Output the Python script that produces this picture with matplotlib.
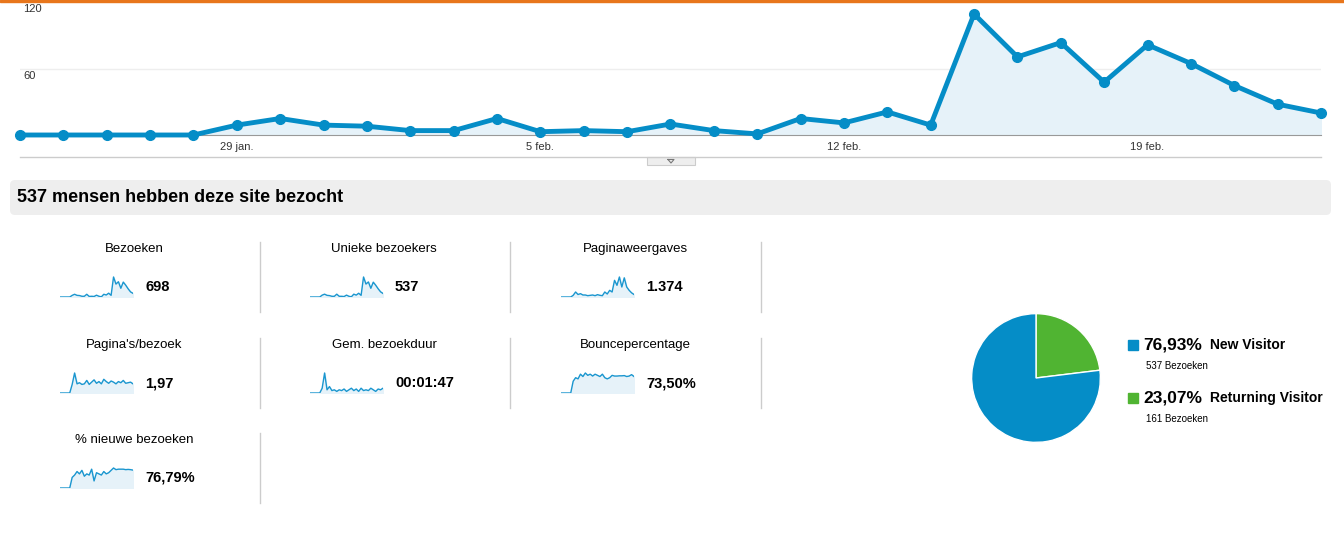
import matplotlib.pyplot as plt
from matplotlib.patches import FancyBboxPatch, Rectangle
import numpy as np

plt.rcParams['font.family'] = 'Liberation Sans'

W, H = 1344, 545
BLUE = '#058dc7'
GREEN = '#50b432'

# daily visits, 24 jan .. 23 feb
visits = [0, 0, 0, 0, 0, 9, 15, 9, 8, 4, 4, 15, 3, 4, 3, 10, 4, 1, 15, 11,
          21, 9, 110, 71, 84, 48, 82, 65, 45, 28, 20]
tick_idx = [5, 12, 19, 26]
tick_labels = ['29 jan.', '5 feb.', '12 feb.', '19 feb.']

title = '537 mensen hebben deze site bezocht'

metric_names = ['Bezoeken', 'Unieke bezoekers', 'Paginaweergaves',
                "Pagina's/bezoek", 'Gem. bezoekduur', 'Bouncepercentage',
                '% nieuwe bezoeken']
metric_values = ['698', '537', '1.374', '1,97', '00:01:47', '73,50%', '76,79%']
spark_unique = [0, 0, 0, 0, 0, 8, 12, 7, 6, 3, 3, 12, 3, 3, 2, 8, 3, 1, 12, 8,
                16, 7, 85, 55, 64, 37, 63, 50, 35, 22, 15]
spark_pageviews = [0, 0, 0, 0, 0, 10, 30, 15, 20, 12, 12, 8, 10, 12, 8, 14, 10,
                   8, 30, 18, 40, 30, 100, 70, 120, 60, 115, 60, 40, 25, 15]
spark_ppv = [0, 0, 0, 0, 0, 1.5, 3.5, 1.6, 1.8, 1.5, 1.6, 2.2, 1.5, 1.9, 2.3,
             1.7, 2.0, 1.6, 2.4, 2.0, 1.7, 2.1, 1.9, 1.6, 2.0, 1.8, 2.2, 1.7,
             1.8, 1.9, 1.6]
spark_duration = [0, 0, 0, 0, 0, 60, 250, 40, 80, 30, 40, 20, 40, 30, 50, 20,
                  40, 60, 30, 50, 20, 60, 30, 40, 30, 60, 40, 20, 50, 40, 60]
spark_bounce = [0, 0, 0, 0, 0, 50, 65, 60, 80, 70, 85, 75, 80, 72, 80, 75, 70,
                80, 65, 60, 65, 75, 72, 72, 73, 73, 74, 70, 72, 78, 70]
spark_new = [0, 0, 0, 0, 0, 45, 55, 70, 60, 75, 50, 60, 55, 80, 30, 65, 60,
             55, 70, 60, 65, 75, 85, 78, 80, 80, 80, 78, 79, 78, 76]
sparks = [visits, spark_unique, spark_pageviews, spark_ppv, spark_duration,
          spark_bounce, spark_new]

pie_labels = ['New Visitor', 'Returning Visitor']
pie_pct = ['76,93%', '23,07%']
pie_visits = [537, 161]


def px_axes(fig, x0, y0, x1, y1, **kw):
    return fig.add_axes([x0 / W, 1 - y1 / H, (x1 - x0) / W, (y1 - y0) / H], **kw)


fig = plt.figure(figsize=(W / 100, H / 100), dpi=100)
bg = px_axes(fig, 0, 0, W, H)
bg.set_xlim(0, W)
bg.set_ylim(H, 0)
bg.axis('off')

# top orange strip
bg.add_patch(Rectangle((0, 0), W, 2, color='#e8761c'))

# main chart
ax = px_axes(fig, 20, 3, 1321, 135)
ax.patch.set_alpha(0)
x = np.arange(len(visits))
ax.fill_between(x, visits, color='#e6f2f9')
ax.plot(x, visits, color=BLUE, lw=3.5, marker='o', ms=7, clip_on=False, zorder=3)
ax.set_xlim(0, len(visits) - 1)
ax.set_ylim(0, 120)
ax.axhline(60, color='#eeeeee', lw=1, zorder=0)
for s in ['top', 'right', 'left']:
    ax.spines[s].set_visible(False)
ax.spines['bottom'].set_color('#999999')
ax.set_yticks([])
ax.set_xticks(tick_idx)
ax.set_xticklabels(tick_labels, fontsize=8, color='#333333')
ax.tick_params(axis='x', length=0, pad=5)
bg.text(23, 9, '120', fontsize=8, color='#333333', va='center')
bg.text(23, 76, '60', fontsize=8, color='#333333', va='center')
bg.plot([20, 1321], [157, 157], color='#cccccc', lw=1)
bg.add_patch(Rectangle((647, 157), 48, 8, facecolor='#eeeeee', edgecolor='#cccccc', lw=0.8))
bg.plot([668, 674, 671, 668], [159.5, 159.5, 163, 159.5], color='#777777', lw=0.8)

# header box
bg.add_patch(FancyBboxPatch((10, 180), 1321, 35, boxstyle='round,pad=0,rounding_size=5',
                            facecolor='#eeeeee', edgecolor='none'))
bg.text(17, 198, title, fontsize=13, fontweight='bold', va='center')

# metric grid
col_c = [134, 384, 635]
row_t = [249, 345, 440]
for i, (name, val, data) in enumerate(zip(metric_names, metric_values, sparks)):
    r, c = divmod(i, 3)
    cx, ty = col_c[c], row_t[r]
    bg.text(cx, ty, name, fontsize=9.5, ha='center', va='center')
    sx0 = cx - 74
    sa = px_axes(fig, sx0, ty + 27, sx0 + 73, ty + 48)
    xs = np.arange(len(data))
    sa.fill_between(xs, data, color='#e6f2f9')
    sa.plot(xs, data, color='#1a96cf', lw=1)
    sa.set_xlim(0, len(data) - 1)
    sa.set_ylim(0, max(data) * 1.05)
    sa.axis('off')
    bg.text(cx + 11, ty + 38, val, fontsize=10.5, fontweight='bold', va='center')
    bg.plot([cx + 126, cx + 126], [ty - 7, ty + 63], color='#cccccc', lw=1)

# pie
pa = px_axes(fig, 971, 313, 1101, 443)
pa.pie([pie_visits[1], pie_visits[0]], colors=[GREEN, BLUE], startangle=90,
       counterclock=False, radius=1, wedgeprops=dict(edgecolor='white', linewidth=1))
pa.set_xlim(-1.01, 1.01)
pa.set_ylim(-1.01, 1.01)
pa.set_aspect('equal')

for j, (lab, pct, n, col) in enumerate(zip(pie_labels, pie_pct, pie_visits, [BLUE, GREEN])):
    y = 345 + j * 53
    bg.add_patch(Rectangle((1128, y - 5), 10, 10, color=col))
    bg.text(1143, y, pct, fontsize=12.5, fontweight='bold', va='center')
    bg.text(1210, y, lab, fontsize=10, fontweight='bold', va='center')
    bg.text(1146, y + 21, f'{n} Bezoeken', fontsize=7, va='center')

fig.savefig('out.png', dpi=100)
